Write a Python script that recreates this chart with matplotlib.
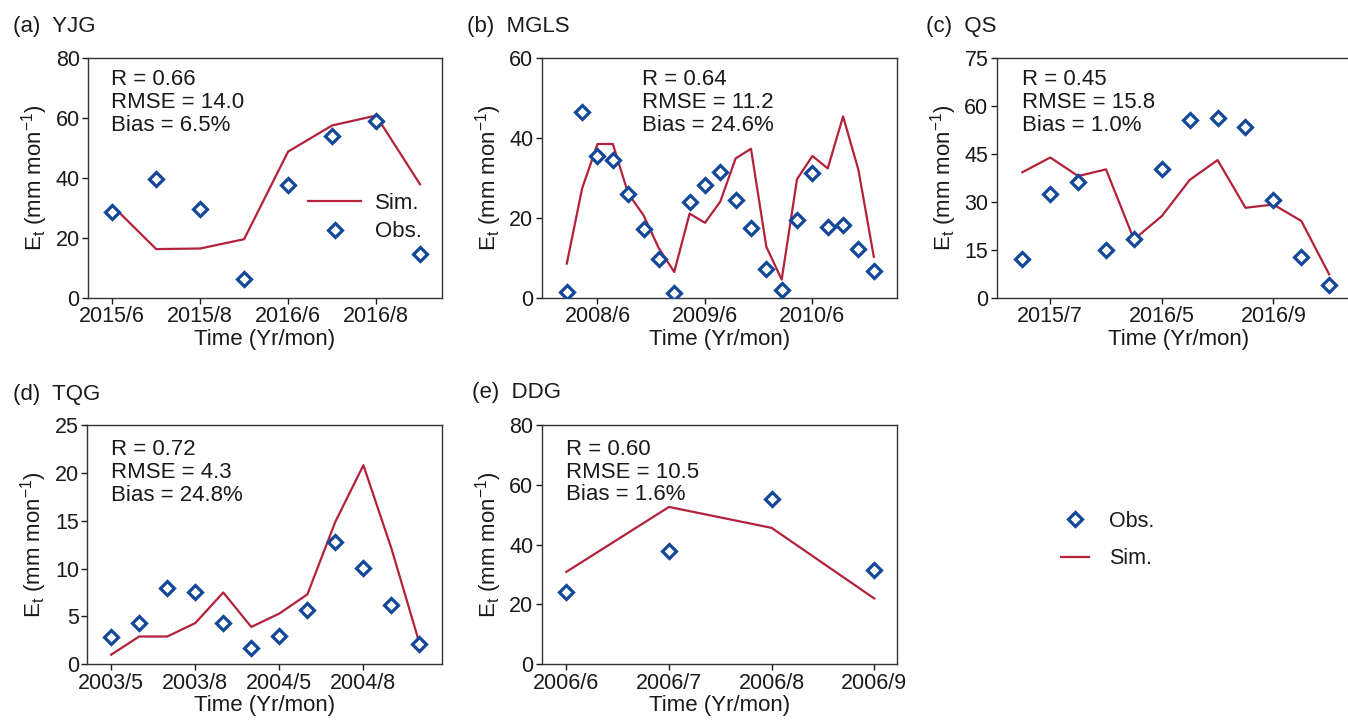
import numpy as np
import matplotlib.pyplot as plt
from matplotlib.lines import Line2D

plt.rcParams['font.family'] = ['Liberation Sans', 'DejaVu Sans']
plt.rcParams['mathtext.fontset'] = 'custom'
plt.rcParams['mathtext.rm'] = 'Liberation Sans'
plt.rcParams['mathtext.it'] = 'Liberation Sans:italic'

# --- data ---
yjg_obs = [28.5, 39.7, 29.6, 6.4, 37.5, 54.0, 59.1, 14.5]
yjg_sim = [30.8, 16.3, 16.5, 19.6, 48.8, 57.5, 60.8, 37.9]
yjg_ticks = ['2015/6', '2015/8', '2016/6', '2016/8']

mgls_obs = [1.5, 46.4, 35.5, 34.5, 26.0, 17.3, 9.7, 1.3, 24.1, 28.2, 31.6,
            24.5, 17.5, 7.2, 1.9, 19.5, 31.2, 17.8, 18.2, 12.2, 6.8]
mgls_sim = [8.6, 27.4, 38.5, 38.5, 26.1, 20.7, 12.4, 6.5, 21.1, 18.8, 24.1,
            34.9, 37.3, 12.8, 4.6, 29.7, 35.5, 32.4, 45.4, 32.0, 10.3]
mgls_ticks = ['2008/6', '2009/6', '2010/6']

qs_obs = [12.2, 32.6, 36.4, 15.1, 18.5, 40.2, 55.5, 56.1, 53.4, 30.6, 12.8, 4.0]
qs_sim = [39.3, 43.9, 38.1, 40.2, 18.3, 25.6, 36.9, 43.1, 28.2, 29.2, 24.1, 7.4]
qs_ticks = ['2015/7', '2016/5', '2016/9']

tqg_obs = [2.9, 4.3, 8.0, 7.5, 4.3, 1.7, 3.0, 5.7, 12.8, 10.1, 6.2, 2.1]
tqg_sim = [1.0, 2.9, 2.9, 4.3, 7.5, 3.9, 5.3, 7.3, 14.9, 20.8, 12.1, 2.2]
tqg_ticks = ['2003/5', '2003/8', '2004/5', '2004/8']

ddg_obs = [24.0, 37.8, 55.1, 31.4]
ddg_sim = [30.9, 52.6, 45.6, 22.0]
ddg_ticks = ['2006/6', '2006/7', '2006/8', '2006/9']

titles = ['(a)  YJG', '(b)  MGLS', '(c)  QS', '(d)  TQG', '(e)  DDG']
stats = ['R = 0.66\nRMSE = 14.0\nBias = 6.5%',
         'R = 0.64\nRMSE = 11.2\nBias = 24.6%',
         'R = 0.45\nRMSE = 15.8\nBias = 1.0%',
         'R = 0.72\nRMSE = 4.3\nBias = 24.8%',
         'R = 0.60\nRMSE = 10.5\nBias = 1.6%']

# --- layout / style ---
OBS_C = '#12479a'
SIM_C = '#b3213b'
TXT_C = '#1a1a1a'
FS = 15.5

panels = [
    # obs, sim, ticklabels, tick idx, ymax, ystep, xlim, axes rect, stats pos, title pos
    (yjg_obs, yjg_sim, yjg_ticks, [0, 2, 4, 6], 80, 20, (-0.55, 7.5),
     [0.0653, 0.5884, 0.2626, 0.3315], (0.065, 0.955), (13, 32)),
    (mgls_obs, mgls_sim, mgls_ticks, [2, 9, 16], 60, 20, (-1.63, 21.5),
     [0.4019, 0.5884, 0.2634, 0.3315], (0.282, 0.955), (467, 32)),
    # panel (c) runs off the right edge of the figure, as in the original
    (qs_obs, qs_sim, qs_ticks, [1, 5, 9], 75, 15, (-0.92, 12.13),
     [0.7394, 0.5884, 0.27, 0.3315], (0.07, 0.955), (926, 32)),
    (tqg_obs, tqg_sim, tqg_ticks, [0, 3, 6, 9], 25, 5, (-0.85, 11.8),
     [0.0648, 0.0825, 0.2630, 0.3305], (0.068, 0.94), (13, 400)),
    (ddg_obs, ddg_sim, ddg_ticks, [0, 1, 2, 3], 80, 20, (-0.24, 3.22),
     [0.4019, 0.0825, 0.2634, 0.3305], (0.068, 0.943), (472, 398)),
]

W, H = 13.48, 7.24
fig = plt.figure(figsize=(W, H), dpi=100)

obs_style = dict(linestyle='none', marker='D', markersize=7.5, markeredgewidth=2.3,
                 markeredgecolor=OBS_C, markerfacecolor='white', zorder=3)
sim_style = dict(color=SIM_C, linewidth=1.6, zorder=2)

axes = []
for i, (obs, sim, tlabels, tidx, ymax, ystep, xlim, rect, spos, tpos) in enumerate(panels):
    ax = fig.add_axes(rect)
    x = np.arange(len(obs))
    ax.plot(x, sim, **sim_style)
    ax.plot(x, obs, **obs_style)
    ax.set_xlim(*xlim)
    ax.set_ylim(0, ymax)
    ax.set_yticks(np.arange(0, ymax + 0.1, ystep))
    ax.set_xticks(tidx)
    ax.set_xticklabels(tlabels)
    ax.tick_params(direction='out', length=4, width=1, labelsize=FS,
                   colors=TXT_C, pad=2)
    for sp in ax.spines.values():
        sp.set_linewidth(1.0)
        sp.set_color('#333333')
    ax.set_xlabel('Time (Yr/mon)', fontsize=FS + 0.5, color=TXT_C, labelpad=1)
    ax.set_ylabel(r'E$_{\rm t}$ (mm mon$^{-1}$)', fontsize=FS + 0.5,
                  color=TXT_C, labelpad=4)
    ax.text(spos[0], spos[1], stats[i], transform=ax.transAxes, ha='left',
            va='top', fontsize=FS + 0.5, color=TXT_C, linespacing=1.12)
    fig.text(tpos[0] / (W * 100), 1 - tpos[1] / (H * 100), titles[i],
             ha='left', va='baseline', fontsize=FS + 0.5, color=TXT_C)
    axes.append(ax)

# legend inside panel (a)
h_sim = Line2D([], [], **sim_style)
h_obs = Line2D([], [], **obs_style)
axes[0].legend([h_sim, h_obs], ['Sim.', 'Obs.'], loc='center left',
               bbox_to_anchor=(0.565, 0.335), frameon=False, fontsize=FS + 0.5,
               handlelength=2.4, handletextpad=0.6, labelspacing=0.35,
               labelcolor=TXT_C)

# stand-alone legend at bottom right
fig.legend([h_obs, h_sim], ['Obs.', 'Sim.'], loc='center left',
           bbox_to_anchor=(0.773, 0.254), frameon=False, fontsize=FS,
           handlelength=1.3, handletextpad=0.9, labelspacing=0.75,
           labelcolor=TXT_C)

fig.savefig('out.png', dpi=100)
